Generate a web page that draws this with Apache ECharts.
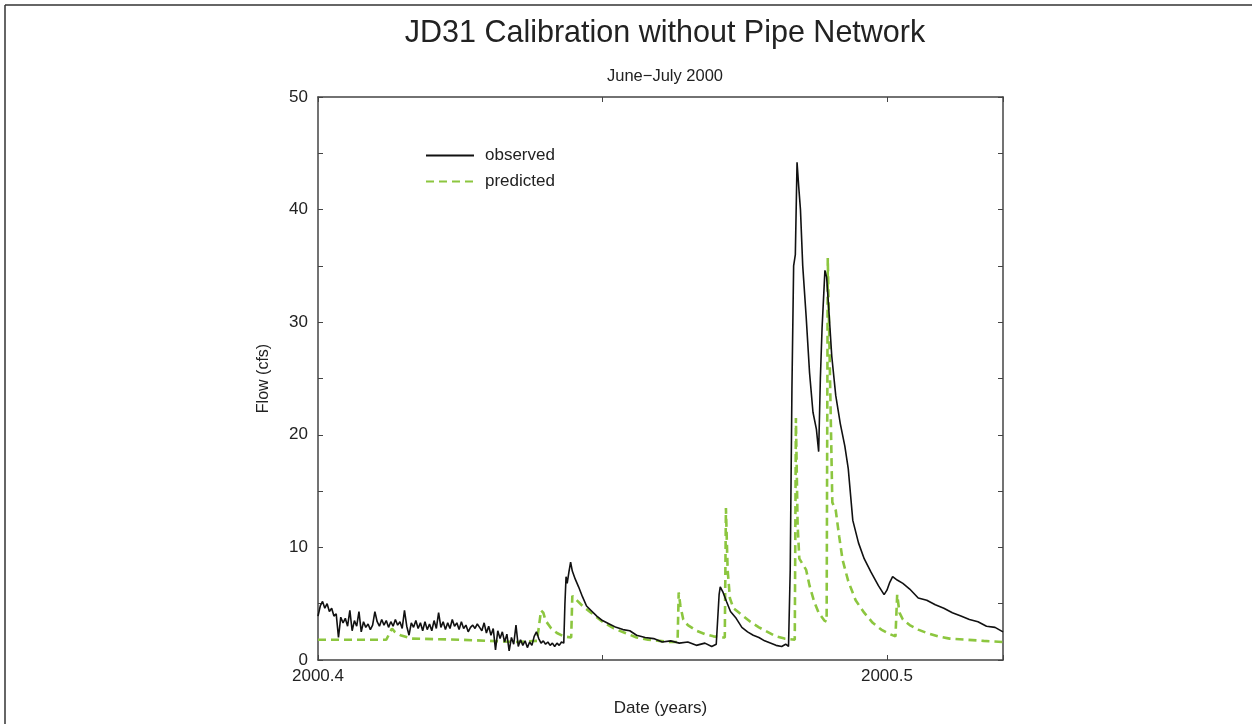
<!DOCTYPE html>
<html>
<head>
<meta charset="utf-8">
<script src="https://cdn.jsdelivr.net/npm/echarts@6/dist/echarts.min.js"></script>
<style>
html,body{margin:0;padding:0;background:#fff;}
#chart{width:1252px;height:724px;}
</style>
</head>
<body>
<div id="chart"></div>
<script>
// Observed flow (cfs) vs decimal year
var obsYear = [
2000.4000,2000.4004,2000.4008,2000.4012,2000.4016,2000.4020,2000.4024,2000.4028,2000.4032,2000.4036,
2000.4040,2000.4044,2000.4048,2000.4052,2000.4056,2000.4060,2000.4064,2000.4068,2000.4072,2000.4076,
2000.4080,2000.4084,2000.4088,2000.4092,2000.4096,2000.4100,2000.4104,2000.4108,2000.4112,2000.4116,
2000.4120,2000.4124,2000.4128,2000.4132,2000.4136,2000.4140,2000.4144,2000.4148,2000.4152,2000.4156,
2000.4160,2000.4164,2000.4168,2000.4172,2000.4176,2000.4180,2000.4184,2000.4188,2000.4192,2000.4196,
2000.4200,2000.4204,2000.4208,2000.4212,2000.4216,2000.4220,2000.4224,2000.4228,2000.4232,2000.4236,
2000.4240,2000.4244,2000.4248,2000.4252,2000.4256,2000.4260,2000.4264,2000.4268,2000.4272,2000.4276,
2000.4280,2000.4284,2000.4288,2000.4292,2000.4296,2000.4300,2000.4304,2000.4308,2000.4312,2000.4316,
2000.4320,2000.4324,2000.4328,2000.4332,2000.4336,2000.4340,2000.4344,2000.4348,2000.4352,2000.4356,
2000.4360,2000.4364,2000.4368,2000.4372,2000.4376,2000.4380,2000.4384,2000.4388,2000.4392,2000.4396,
2000.4400,2000.4404,2000.4408,2000.4412,2000.4416,2000.4420,2000.4424,2000.4428,2000.4432,
2000.4434,2000.4436,2000.4438,2000.4441,2000.4444,2000.4447,2000.4452,2000.4458,2000.4465,2000.4472,
2000.4480,2000.4490,2000.4500,2000.4512,2000.4524,2000.4536,2000.4548,2000.4560,2000.4575,2000.4590,
2000.4605,2000.4620,2000.4635,2000.4650,2000.4665,2000.4680,2000.4692,2000.4700,2000.4703,2000.4705,
2000.4707,2000.4712,2000.4718,2000.4725,2000.4735,2000.4745,2000.4755,2000.4765,2000.4775,2000.4785,
2000.4795,2000.4805,2000.4815,2000.4822,2000.4827,2000.4830,2000.4833,2000.4836,2000.4839,2000.4842,
2000.4845,2000.4848,2000.4852,2000.4858,2000.4864,2000.4870,2000.4876,2000.4880,2000.4883,2000.4886,
2000.4891,2000.4894,2000.4898,2000.4903,2000.4910,2000.4918,2000.4926,2000.4932,2000.4940,2000.4950,
2000.4960,2000.4972,2000.4985,2000.4995,2000.5000,2000.5005,2000.5010,2000.5018,2000.5028,2000.5040,
2000.5055,2000.5070,2000.5085,2000.5100,2000.5115,2000.5130,2000.5145,2000.5160,2000.5175,2000.5190,
2000.5204
];
var obsFlow = [
3.9,4.8,5.2,4.6,5.0,4.3,4.6,3.9,4.1,2.0,
3.8,3.3,3.7,3.0,4.4,2.6,3.5,3.0,4.3,2.5,
3.4,2.9,3.2,2.7,3.1,4.3,3.4,3.0,3.6,3.1,
3.5,2.9,3.4,3.0,3.6,3.1,3.4,2.8,4.4,3.0,
2.2,3.3,2.9,3.5,2.8,3.3,2.6,3.4,2.7,3.2,
2.6,3.5,2.8,4.2,2.9,3.4,2.7,3.3,2.8,3.6,
3.0,3.3,2.7,3.4,2.8,3.1,2.5,2.9,3.1,2.8,
3.2,2.9,2.6,3.3,2.4,3.0,2.2,2.8,0.9,2.6,
1.9,2.5,1.6,2.3,0.8,2.0,1.4,3.1,1.2,1.8,
1.3,1.7,1.1,1.6,1.3,2.1,2.5,1.9,1.5,1.7,
1.4,1.6,1.3,1.5,1.2,1.5,1.3,1.6,1.5,
5.0,7.4,6.8,7.8,8.7,7.9,7.2,6.5,5.6,4.8,
4.4,3.9,3.5,3.2,2.9,2.7,2.6,2.2,2.0,1.9,
1.6,1.7,1.5,1.6,1.3,1.5,1.2,1.4,1.3,5.8,
6.5,6.0,5.2,4.3,3.7,2.9,2.5,2.2,2.0,1.7,
1.5,1.3,1.2,1.4,1.2,8.0,24.0,35.0,36.0,44.2,
42.0,40.0,35.0,30.5,25.5,22.0,20.5,18.5,25.0,29.5,
34.6,34.0,31.0,27.0,23.5,21.0,19.0,17.0,12.4,10.4,
9.0,7.8,6.6,5.8,6.2,6.9,7.4,7.1,6.8,6.3,
5.5,5.3,4.9,4.6,4.2,3.9,3.6,3.4,3.0,2.9,
2.5
];
// Predicted flow (cfs) vs decimal year
var predYear = [
2000.4000,2000.4120,2000.4130,2000.4135,2000.4145,2000.4165,2000.4250,2000.4350,2000.4385,2000.4392,
2000.4396,2000.4400,2000.4410,2000.4420,2000.4432,2000.4445,2000.4447,2000.4455,2000.4465,2000.4480,
2000.4500,2000.4520,2000.4540,2000.4560,2000.4580,2000.4600,2000.4617,2000.4632,2000.4634,2000.4637,
2000.4642,2000.4650,2000.4665,2000.4680,2000.4695,2000.4710,2000.4715,2000.4717,2000.4720,2000.4724,
2000.4730,2000.4745,2000.4760,2000.4775,2000.4790,2000.4805,2000.4820,2000.4838,2000.4840,2000.4843,
2000.4846,2000.4852,2000.4858,2000.4864,2000.4872,2000.4880,2000.4890,2000.4894,2000.4896,2000.4900,
2000.4904,2000.4910,2000.4916,2000.4922,2000.4932,2000.4945,2000.4960,2000.4975,2000.4990,2000.5005,
2000.5015,2000.5018,2000.5022,2000.5028,2000.5040,2000.5055,2000.5070,2000.5090,2000.5110,2000.5140,
2000.5170,2000.5204
];
var predFlow = [
1.8,1.8,2.8,2.5,2.2,1.9,1.8,1.6,1.7,4.4,
4.2,3.5,2.8,2.4,2.1,2.0,5.7,5.3,4.8,4.2,
3.4,2.8,2.4,2.0,1.8,1.7,1.6,1.6,6.0,4.8,
3.6,3.1,2.6,2.3,2.1,2.0,2.0,13.5,8.0,5.5,
4.6,4.0,3.4,2.9,2.5,2.1,1.9,1.8,21.5,12.0,
9.0,8.5,8.0,6.6,5.2,4.2,3.5,3.4,35.7,25.0,
14.0,13.3,11.0,8.9,7.0,5.3,4.2,3.3,2.7,2.3,
2.1,5.8,4.2,3.6,3.1,2.7,2.4,2.1,1.9,1.8,
1.7,1.6
];
var yTickLabels = ['0','10','20','30','40','50'];
var xTickLabels = ['2000.4','2000.5'];

function zip(a,b){ var r=[]; for (var i=0;i<a.length;i++) r.push([a[i],b[i]]); return r; }

var FONT = '"Liberation Sans", Arial, sans-serif';
var AX = '#444';
var chart = echarts.init(document.getElementById('chart'), null, {renderer:'canvas'});
chart.setOption({
  backgroundColor:'#fff',
  animation:false,
  textStyle:{fontFamily:FONT},
  title:[
    {text:'JD31 Calibration without Pipe Network', left:660, top:13, textAlign:'center',
     textStyle:{fontSize:30.5, fontWeight:'normal', color:'#222', fontFamily:FONT}},
    {text:'June\u2212July 2000', left:660, top:63, textAlign:'center',
     textStyle:{fontSize:16.5, fontWeight:'normal', color:'#222', fontFamily:FONT}}
  ],
  legend:{
    orient:'vertical', left:425, top:147, padding:0, itemWidth:48, itemHeight:14, itemGap:9,
    itemStyle:{opacity:0},
    textStyle:{fontSize:17, color:'#222', fontFamily:FONT, padding:[0,0,0,6]},
    data:['observed','predicted']
  },
  grid:{left:318, right:249, top:97, bottom:64, containLabel:false},
  xAxis:[
    {type:'value', min:2000.4, max:2000.5204, interval:0.05, position:'bottom',
     axisLine:{show:true, onZero:false, lineStyle:{color:AX, width:1.5}},
     axisTick:{show:true, inside:true, length:5, lineStyle:{color:AX}},
     splitLine:{show:false},
     axisLabel:{fontSize:17, color:'#222', margin:8, fontFamily:FONT,
       formatter:function(v){ for (var i=0;i<xTickLabels.length;i++){ if (Math.abs(v-parseFloat(xTickLabels[i]))<1e-6) return xTickLabels[i]; } return ''; }},
     name:'Date (years)', nameLocation:'middle', nameGap:40,
     nameTextStyle:{fontSize:17, color:'#222', fontFamily:FONT}},
    {type:'value', min:2000.4, max:2000.5204, interval:0.05, position:'top',
     axisLine:{show:true, onZero:false, lineStyle:{color:AX, width:1.5}},
     axisTick:{show:true, inside:true, length:5, lineStyle:{color:AX}},
     splitLine:{show:false}, axisLabel:{show:false}}
  ],
  yAxis:[
    {type:'value', min:0, max:50, interval:5, position:'left',
     axisLine:{show:true, onZero:false, lineStyle:{color:AX, width:1.5}},
     axisTick:{show:true, inside:true, length:5, lineStyle:{color:AX}},
     splitLine:{show:false},
     axisLabel:{fontSize:17, color:'#222', margin:10, fontFamily:FONT,
       formatter:function(v){ var s=String(Math.round(v)); return yTickLabels.indexOf(s)>=0 && v%10===0 ? s : ''; }},
     name:'Flow (cfs)', nameLocation:'middle', nameGap:46, nameRotate:90,
     nameTextStyle:{fontSize:16, color:'#222', fontFamily:FONT}},
    {type:'value', min:0, max:50, interval:5, position:'right',
     axisLine:{show:true, onZero:false, lineStyle:{color:AX, width:1.5}},
     axisTick:{show:true, inside:true, length:5, lineStyle:{color:AX}},
     splitLine:{show:false}, axisLabel:{show:false}}
  ],
  series:[
    {name:'observed', type:'line', xAxisIndex:0, yAxisIndex:0, data:zip(obsYear,obsFlow),
     symbol:'none', showSymbol:false, smooth:false,
     lineStyle:{color:'#111', width:1.6}, itemStyle:{color:'#111'}, z:3},
    {name:'predicted', type:'line', xAxisIndex:0, yAxisIndex:0, data:zip(predYear,predFlow),
     symbol:'none', showSymbol:false, smooth:false,
     lineStyle:{color:'#8cc63f', width:2.6, type:[8,5]}, itemStyle:{color:'#8cc63f'}, z:2}
  ],
  graphic:[
    {type:'line', shape:{x1:5, y1:5, x2:1252, y2:5}, style:{stroke:'#333', lineWidth:1.5}, silent:true},
    {type:'line', shape:{x1:5, y1:5, x2:5, y2:724}, style:{stroke:'#333', lineWidth:1.5}, silent:true}
  ]
});
</script>
</body>
</html>
